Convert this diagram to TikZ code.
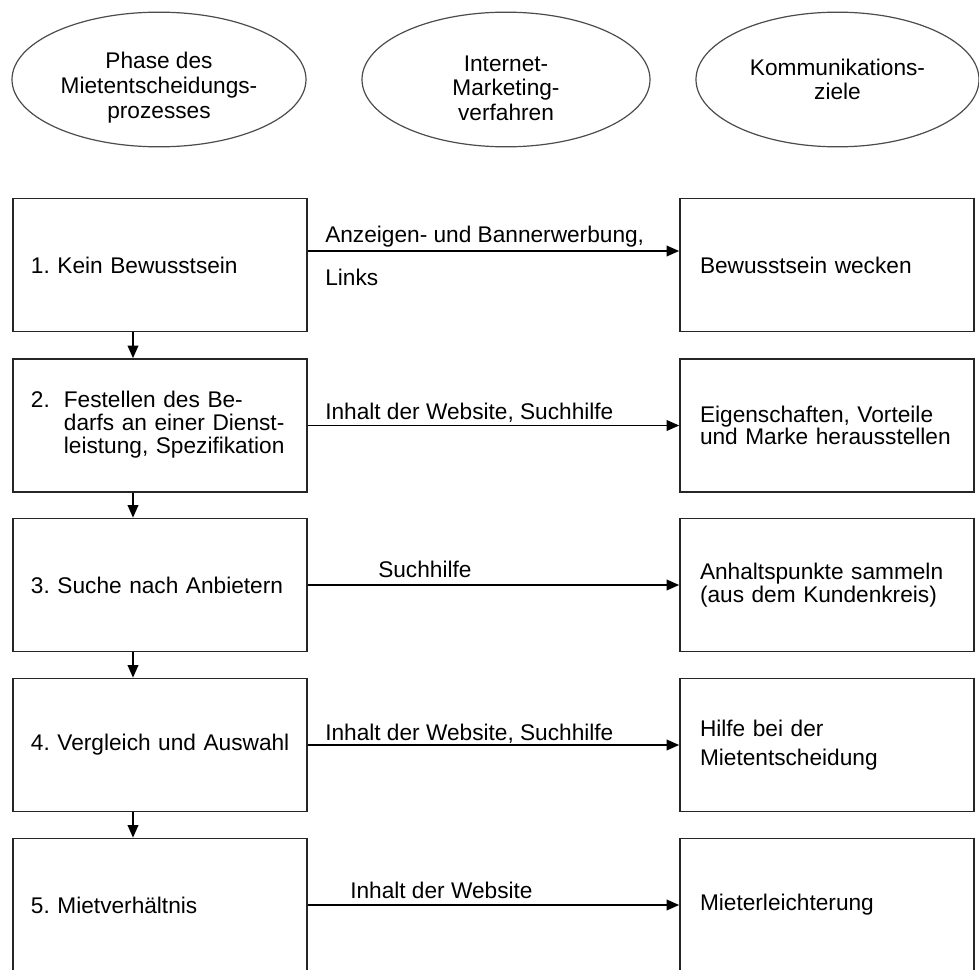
\documentclass[tikz,border=0pt]{standalone}
\usepackage{fontspec}
\setmainfont{Liberation Sans}
\usetikzlibrary{shapes.geometric,arrows.meta}
\frenchspacing
\begin{document}
\begin{tikzpicture}[
    x=0.75pt, y=-0.75pt,
    head/.style={ellipse, draw=black!70, line width=0.9pt, minimum height=101pt, inner sep=0pt, align=center, font=\fontsize{17pt}{18.5pt}\selectfont},
    phasebox/.style={rectangle, draw=black!85, line width=1.2pt, minimum width=220.5pt, minimum height=99.75pt, inner xsep=13.5pt, text width=193.5pt, align=left, font=\fontsize{17pt}{17pt}\selectfont},
    goalbox/.style={phasebox, inner xsep=15pt, text width=190.5pt},
    lbl/.style={anchor=base west, inner sep=0pt, font=\fontsize{17pt}{17pt}\selectfont},
    arr/.style={line width=1.3pt, -{Triangle[length=9.5pt, width=8pt]}}
]
\useasboundingbox[fill=white] (0,0) rectangle (979,970);

%  -- Column heads  --
\node[head, minimum width=220.5pt, text height=61.5pt] (hphase) at (159, 79.5) {Phase des\\Mietentscheidungs-\\prozesses};
\node[head, minimum width=216pt, text height=61.5pt]   (hweb)   at (506, 79.5) {Internet-\\Marketing-\\verfahren};
\node[head, minimum width=212.25pt]                    (hziel)  at (837.5, 79.5) {Kommunikations-\\ziele};

%  -- Phases (left column)  --
\node[phasebox] (p1) at (160, 265)   {1. Kein Bewusstsein};
\node[phasebox] (p2) at (160, 425.5) {\begin{tabular}{@{}l@{\hspace{10.5pt}}l@{}}2. & Festellen des Be-\\ & darfs an einer Dienst-\\ & leistung, Spezifikation\end{tabular}};
\node[phasebox] (p3) at (160, 585)   {3. Suche nach Anbietern};
\node[phasebox] (p4) at (160, 745)   {\mbox{4. Vergleich und Auswahl}};
\node[phasebox] (p5) at (160, 905)   {5. Mietverhältnis};

%  -- Goals (right column)  --
\node[goalbox] (z1) at (827, 265)   {Bewusstsein wecken};
\node[goalbox] (z2) at (827, 425.5) {Eigenschaften, Vorteile\\und Marke herausstellen};
\node[goalbox] (z3) at (827, 585)   {Anhaltspunkte sammeln\\(aus dem Kundenkreis)};
\node[goalbox] (z4) at (827, 745)   {Hilfe bei der\\[5pt]Mietentscheidung};
\node[goalbox] (z5) at (827, 905)   {Mieterleichterung};

%  -- Phase to goal, with the marketing means  --
\draw[arr] ([yshift=10.5pt]p1.east) -- ([yshift=10.5pt]z1.west);
\draw[arr] (p2) -- (z2);
\draw[arr] (p3) -- (z3);
\draw[arr] (p4) -- (z4);
\draw[arr] (p5) -- (z5);
\node[lbl] (m1a) at (325, 243) {Anzeigen- und Bannerwerbung,};
\node[lbl] (m1b) at (325, 286) {Links};
\node[lbl] (m2)  at (325, 419) {Inhalt der Website, Suchhilfe};
\node[lbl] (m3)  at (378, 577) {Suchhilfe};
\node[lbl] (m4)  at (325, 740) {Inhalt der Website, Suchhilfe};
\node[lbl] (m5)  at (350, 898) {Inhalt der Website};

%  -- Phase sequence  --
\coordinate (ax) at (133, 0);
\foreach \a/\b in {p1/p2, p2/p3, p3/p4, p4/p5}
  \draw[arr] (\a.south -| ax) -- (\b.north -| ax);

\end{tikzpicture}
\end{document}
